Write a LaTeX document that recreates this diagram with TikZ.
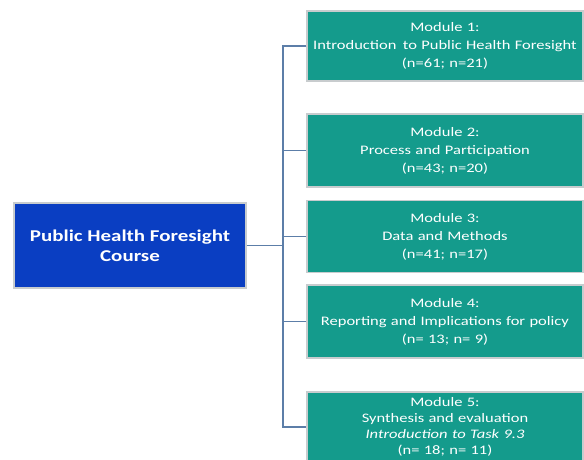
\documentclass[tikz,border=0pt]{standalone}
\usepackage{fontspec}
\setmainfont{Carlito}[FakeStretch=1.27]
\definecolor{tealbox}{RGB}{20,155,140}
\definecolor{bluebox}{RGB}{10,62,194}
\definecolor{linkcol}{RGB}{92,126,168}
\definecolor{edgecol}{RGB}{200,204,206}
\begin{document}
\begin{tikzpicture}[x=1pt,y=1pt,
  modbox/.style={fill=tealbox, draw=edgecol, line width=1.2pt, minimum width=276pt, text width=270pt, align=center, text=white, inner sep=0pt, font=\fontsize{13}{18}\selectfont},
  titlebox/.style={fill=bluebox, draw=edgecol, line width=1.2pt, minimum width=232pt, minimum height=85pt, align=center, text=white, font=\fontsize{16.5}{20}\selectfont\bfseries},
  link/.style={draw=linkcol, line width=1.3pt}]
\useasboundingbox (0,0) rectangle (584,-459);
\node[titlebox] (title) at (130,-245.5) {Public Health Foresight\\Course};
\node[modbox, minimum height=70pt] (m1) at (445,-46) {Module 1:\\Introduction\, to Public Health Foresight\\(n=61; n=21)};
\node[modbox, minimum height=73pt] (m2) at (445,-150.5) {Module 2:\\Process and Participation\\(n=43; n=20)};
\node[modbox, minimum height=72pt] (m3) at (445,-236.5) {Module 3:\\Data and Methods\\(n=41; n=17)};
\node[modbox, minimum height=73pt] (m4) at (445,-321.5) {Module 4:\\Reporting and Implications for policy\\(n= 13; n= 9)};
\node[modbox, minimum height=70pt, font=\fontsize{13}{16}\selectfont] (m5) at (445,-427) {Module 5:\\Synthesis and evaluation\\\textit{Introduction to Task 9.3}\\(n= 18; n= 11)};
\coordinate (bus) at (283,0);
\draw[link] (m1.west) -- (m1.west -| bus) -- (m5.west -| bus) -- (m5.west);
\draw[link] (m2.west) -- (m2.west -| bus);
\draw[link] (m3.west) -- (m3.west -| bus);
\draw[link] (m4.west) -- (m4.west -| bus);
\draw[link] (title.east) -- (title.east -| bus);
\end{tikzpicture}
\end{document}
